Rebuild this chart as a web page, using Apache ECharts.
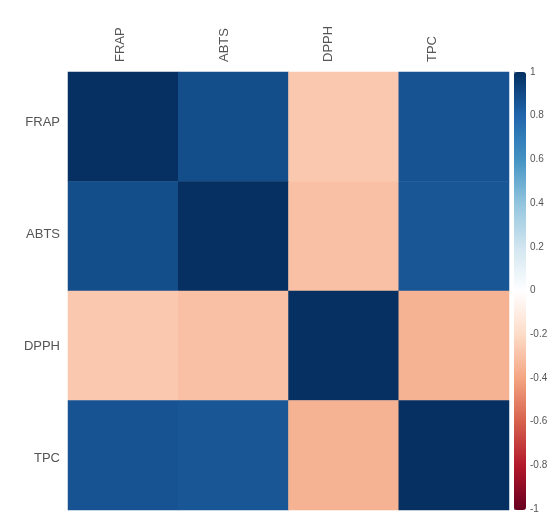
<!DOCTYPE html>
<html>
<head>
<meta charset="utf-8">
<script src="https://cdn.jsdelivr.net/npm/echarts@6/dist/echarts.min.js"></script>
<style>
  html, body { margin: 0; padding: 0; background: #fff; }
  #chart { width: 553px; height: 514px; }
</style>
</head>
<body>
<div id="chart"></div>
<script>
// Correlation matrix of the antioxidant assays
const variables = ['FRAP', 'ABTS', 'DPPH', 'TPC'];
const rowFRAP = [1.00, 0.89, -0.27, 0.87];
const rowABTS = [0.89, 1.00, -0.30, 0.86];
const rowDPPH = [-0.27, -0.30, 1.00, -0.35];
const rowTPC  = [0.87, 0.86, -0.35, 1.00];
const colorbarTicks = [1, 0.8, 0.6, 0.4, 0.2, 0, -0.2, -0.4, -0.6, -0.8, -1];

// RdBu diverging palette, from -1 to 1
const rdBu = ['#67001F', '#B2182B', '#D6604D', '#F4A582', '#FDDBC7', '#FFFFFF',
              '#D1E5F0', '#92C5DE', '#4393C3', '#2166AC', '#053061'];

const rows = [rowFRAP, rowABTS, rowDPPH, rowTPC];
const cells = [];
rows.forEach((row, r) => row.forEach((v, c) => cells.push([c, r, v])));

const labelFont = { fontFamily: 'Liberation Sans, Arial, sans-serif', color: '#555' };

const chart = echarts.init(document.getElementById('chart'));
chart.setOption({
  animation: false,
  backgroundColor: '#fff',
  grid: [
    { left: 68, top: 72, width: 441, height: 438 },   // matrix
    { left: 68, top: 66, width: 416, height: 456 },   // label placement
    { left: 514, top: 72, width: 12, height: 438 }    // colour bar scale
  ],
  xAxis: [
    { type: 'category', data: variables, gridIndex: 0, show: false },
    {
      type: 'category', data: variables, gridIndex: 1, position: 'top',
      axisLine: { show: false }, axisTick: { show: false }, splitLine: { show: false },
      axisLabel: { ...labelFont, fontSize: 13, rotate: -90, margin: 4 }
    },
    { type: 'value', gridIndex: 2, show: false, min: 0, max: 1 }
  ],
  yAxis: [
    { type: 'category', data: variables, gridIndex: 0, inverse: true, show: false },
    {
      type: 'category', data: variables, gridIndex: 1, inverse: true,
      axisLine: { show: false }, axisTick: { show: false }, splitLine: { show: false },
      axisLabel: { ...labelFont, fontSize: 13, margin: 8 }
    },
    {
      type: 'value', gridIndex: 2, position: 'right', min: -1, max: 1, interval: 0.2,
      axisLine: { show: true, lineStyle: { color: '#888', width: 1 } },
      axisTick: { show: true, length: 3, lineStyle: { color: '#888' } },
      splitLine: { show: false },
      axisLabel: {
        ...labelFont, fontSize: 10, margin: 4,
        formatter: v => {
          const r = Math.round(v * 10) / 10;
          return colorbarTicks.includes(r) ? String(r) : '';
        }
      }
    }
  ],
  visualMap: [
    {
      type: 'continuous', seriesIndex: 0, min: -1, max: 1,
      inRange: { color: rdBu },
      orient: 'vertical', left: 514, top: 72, padding: 0,
      itemWidth: 12, itemHeight: 438, calculable: false, text: null,
      textStyle: { color: 'transparent' }, showLabel: false
    }
  ],
  series: [
    {
      type: 'heatmap', xAxisIndex: 0, yAxisIndex: 0, data: cells,
      itemStyle: { borderWidth: 0 },
      label: { show: false },
      emphasis: { disabled: true }
    }
  ]
});
</script>
</body>
</html>
